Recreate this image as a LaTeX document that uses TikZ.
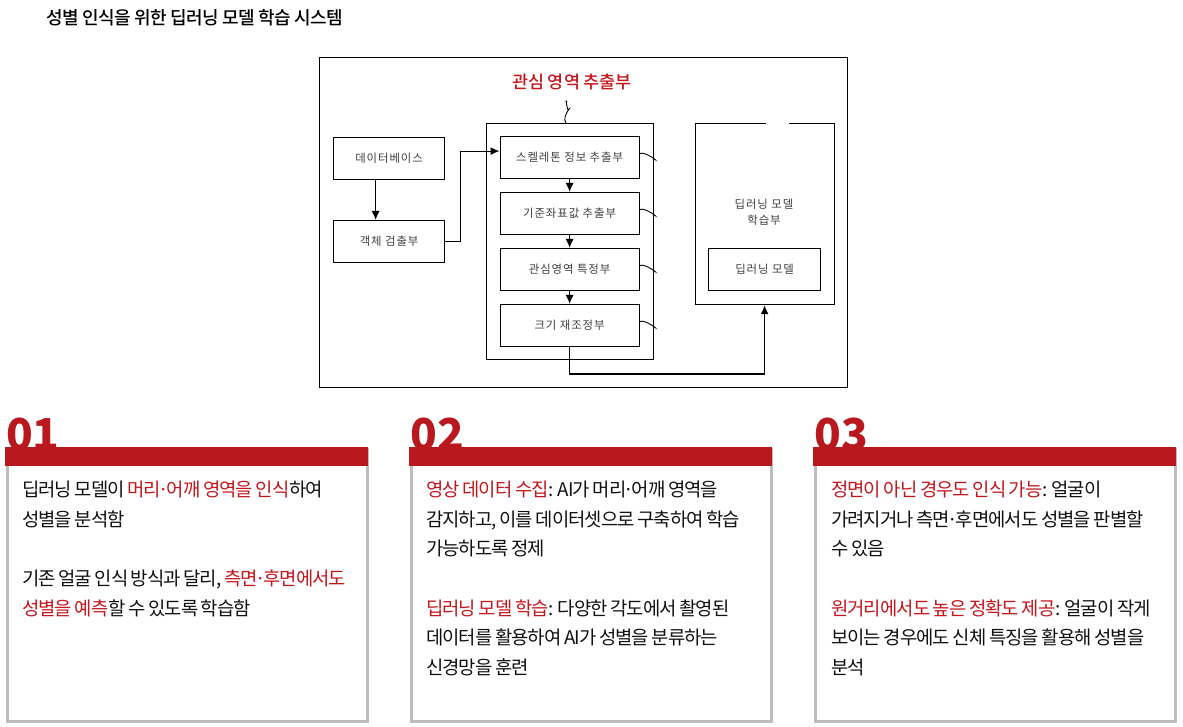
\documentclass[tikz,border=0pt]{standalone}
\usepackage{fontspec}
\usetikzlibrary{arrows.meta,calc}
\setmainfont{Noto Sans CJK KR}
\newfontfamily\bodyfont[LetterSpace=-5,WordSpace=0.8]{Noto Sans CJK KR}
\newfontfamily\schemfont[LetterSpace=8]{Noto Sans CJK KR}
\newfontfamily\numfont{Noto Sans CJK KR Black}
\newfontfamily\medfont[LetterSpace=-3]{Noto Sans CJK KR Medium}
\newfontfamily\roifont{Noto Sans CJK KR Medium}
\definecolor{cardred}{HTML}{B8181E}
\definecolor{hl}{HTML}{C5161D}
\definecolor{cardgray}{HTML}{BDBDBD}
\definecolor{inkdark}{HTML}{111111}
\newcommand{\hlt}[1]{\textcolor{hl}{#1}}
\newcommand{\dt}{\kern-0.13em·\kern-0.13em}
\tikzset{
  x=1pt,y=-1pt,
  schembox/.style={draw=black,line width=1.2pt,inner sep=0pt,anchor=north west,align=center,
     font=\schemfont\fontsize{11.4}{15.5}\selectfont,text=black!75},
  link/.style={draw=black,line width=1.2pt},
  linkarrow/.style={link,-{Latex[length=9pt,width=8pt]}},
  squig/.style={draw=black,line width=0.9pt},
  cardframe/.style={draw=cardgray,line width=3pt,fill=white,anchor=north west,inner sep=0pt},
  cardbar/.style={fill=cardred,draw=none,anchor=north west,inner sep=0pt},
  cardnum/.style={anchor=base west,inner sep=0pt,text=cardred,font=\numfont\fontsize{44}{44}\selectfont},
  cardtext/.style={anchor=north west,inner sep=0pt,align=left,text=inkdark,
     font=\bodyfont\fontsize{18.8}{29.6}\selectfont},
}
\begin{document}
\begin{tikzpicture}
\useasboundingbox (0,0) rectangle (1183,727);
\fill[white] (0,0) rectangle (1183,727);
\node[anchor=west,inner sep=0pt,text=black,font=\medfont\fontsize{18}{20}\selectfont] (title) at (46,18) {성별 인식을 위한 딥러닝 모델 학습 시스템};

% schematic
\node[draw=black,line width=1.3pt,minimum width=528pt,minimum height=330pt,anchor=north west,inner sep=0pt] (outer) at (319,57) {};
\node[anchor=center,inner sep=0pt,text=hl,font=\roifont\fontsize{17.4}{20}\selectfont] (roi) at (572,82) {관심 영역 추출부};

\node[schembox,minimum width=167pt,minimum height=236pt] (roibox) at (486,123) {};
\node[schembox,minimum width=139pt,minimum height=181pt] (learnbox) at (694.5,123) {};

\node[schembox,minimum width=111pt,minimum height=42pt] (db) at (333,137) {데이터베이스};
\node[schembox,minimum width=111pt,minimum height=42pt] (det) at (333,220) {객체 검출부};
\node[schembox,minimum width=139pt,minimum height=42pt] (sk) at (499.5,136) {스켈레톤 정보 추출부};
\node[schembox,minimum width=139pt,minimum height=42pt] (ref) at (499.5,192) {기준좌표값 추출부};
\node[schembox,minimum width=139pt,minimum height=42pt] (spec) at (499.5,248) {관심영역 특정부};
\node[schembox,minimum width=139pt,minimum height=42pt] (size) at (499.5,304) {크기 재조정부};
\node[schembox,minimum width=112pt,minimum height=42pt] (model) at (708,248) {딥러닝 모델};
\node[inner sep=0pt,align=center,text=black!75,font=\schemfont\fontsize{11.4}{15.5}\selectfont] (learnlabel) at (764,212) {딥러닝 모델\\학습부};

\coordinate (dbout) at ($(db.south west)!0.38!(db.south east)$);
\draw[linkarrow] (dbout) -- (det.north -| dbout);
\coordinate (skin) at ($(sk.north west)!0.35!(sk.south west)$);
\draw[linkarrow] (det.east) -- ++(15,0) |- (skin);
\draw[linkarrow] (sk.south) -- (ref.north);
\draw[linkarrow] (ref.south) -- (spec.north);
\draw[linkarrow] (spec.south) -- (size.north);
\coordinate (busy) at (0,374);
\draw[linkarrow] (size.south) -- (size.south |- busy) -| (learnbox.south);

\draw[squig] (roibox.north west) ++(80,0) .. controls +(-5,-7) and +(6,-6) .. ++(2,-13) .. controls +(-1,-3) and +(-2,-4) .. ++(-1,-8);
\foreach \b in {sk,ref,spec,size}{
  \draw[squig] ($(\b.east)+(0,-4)$) .. controls +(5,-3) and +(7,5) .. ($(\b.east)+(14,1)$);
}
\draw[white,line width=1.6pt] ($(learnbox.north)+(1,0)$) -- ++(23,0);

% cards
\foreach \n/\x/\t in {c1/5/01,c2/409/02,c3/813/03}{
  \node[cardnum] (num\n) at (\x+1,450) {\t};
  \node[cardframe,minimum width=360pt,minimum height=272pt] (frame\n) at (\x+0.5,448) {};
  \node[cardbar,minimum width=363pt,minimum height=19pt] (bar\n) at (\x,447) {};
}
\node[cardtext] (t1) at (22,481) {딥러닝 모델이 \hlt{머리\dt 어깨 영역을 인식}하여\\성별을 분석함\\[29.6pt]기존 얼굴 인식 방식과 달리, \hlt{측면\dt 후면에서도}\\\hlt{성별을 예측}할 수 있도록 학습함};
\node[cardtext] (t2) at (426,481) {\hlt{영상 데이터 수집}: AI가 머리\dt 어깨 영역을\\감지하고, 이를 데이터셋으로 구축하여 학습\\가능하도록 정제\\[29.6pt]\hlt{딥러닝 모델 학습}: 다양한 각도에서 촬영된\\데이터를 활용하여 AI가 성별을 분류하는\\신경망을 훈련};
\node[cardtext] (t3) at (831,481) {\hlt{정면이 아닌 경우도 인식 가능}: 얼굴이\\가려지거나 측면\dt 후면에서도 성별을 판별할\\수 있음\\[29.6pt]\hlt{원거리에서도 높은 정확도 제공}: 얼굴이 작게\\보이는 경우에도 신체 특징을 활용해 성별을\\분석};
\end{tikzpicture}
\end{document}
